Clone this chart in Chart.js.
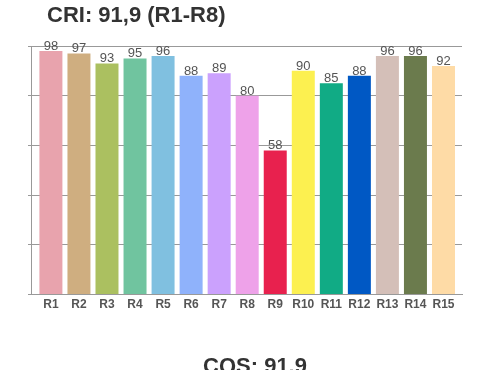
<!DOCTYPE html>
<html>
<head>
<meta charset="utf-8">
<script src="https://cdn.jsdelivr.net/npm/chart.js@4"></script>
<style>
  body { margin: 0; background: #fff; overflow: hidden; }
  #wrap { position: relative; width: 500px; height: 370px; overflow: hidden; }
  #chart { position: absolute; left: 0; top: 0; }
  .ttl { position: absolute; font: bold 22px "Liberation Sans", Arial, sans-serif; color: #333; white-space: nowrap; }
</style>
</head>
<body>
<div id="wrap">
  <canvas id="chart" width="500" height="370"></canvas>
  <div class="ttl" id="title1" style="left:47px; top:2px;">CRI: 91,9 (R1-R8)</div>
  <div class="ttl" id="title2" style="left:0; width:510px; text-align:center; top:353px;">CQS: 91.9</div>
</div>
<script>
const categories = ['R1', 'R2', 'R3', 'R4', 'R5', 'R6', 'R7', 'R8', 'R9', 'R10', 'R11', 'R12', 'R13', 'R14', 'R15'];
const values = [98, 97, 93, 95, 96, 88, 89, 80, 58, 90, 85, 88, 96, 96, 92];
const barColors = ['#e8a3ad', '#cfae80', '#abc060', '#70c49f', '#80c0e0', '#8fb2fb', '#cba1fd', '#eea2e9', '#e8214e',
                   '#fcf050', '#11ab85', '#0058c4', '#d4bfb8', '#6b7b4d', '#fedba6'];
const yTicks = [0, 20, 40, 60, 80, 100];

// draw the value above each bar
const valueLabels = {
    id: 'valueLabels',
    afterDatasetsDraw(chart) {
        const ctx = chart.ctx;
        const meta = chart.getDatasetMeta(0);
        ctx.save();
        ctx.font = '13px "Liberation Sans", Arial, sans-serif';
        ctx.fillStyle = '#555';
        ctx.textAlign = 'center';
        ctx.textBaseline = 'alphabetic';
        meta.data.forEach((bar, i) => {
            ctx.fillText(values[i], bar.x, bar.y - 1);
        });
        ctx.restore();
    }
};

const ctx = document.getElementById('chart').getContext('2d');
new Chart(ctx, {
    type: 'bar',
    data: {
        datasets: [{
            data: values.map((v, i) => ({ x: i, y: v })),
            backgroundColor: barColors,
            borderWidth: 0,
            categoryPercentage: 1,
            barPercentage: 0.82
        }]
    },
    options: {
        responsive: false,
        animation: false,
        layout: { padding: { left: 28, right: 38, top: 46, bottom: 58 } },
        plugins: {
            legend: { display: false },
            tooltip: { enabled: false }
        },
        scales: {
            x: {
                type: 'linear',
                offset: false,
                min: -0.71,
                max: 14.66,
                afterBuildTicks: axis => { axis.ticks = categories.map((c, i) => ({ value: i })); },
                ticks: {
                    callback: v => categories[v],
                    autoSkip: false,
                    maxRotation: 0,
                    padding: 0,
                    color: '#555',
                    font: { family: '"Liberation Sans", Arial, sans-serif', size: 12, weight: 'bold' }
                },
                grid: { display: false, tickLength: 3 },
                border: { display: true, color: '#999', width: 1 }
            },
            y: {
                min: 0,
                max: 100,
                afterBuildTicks: axis => { axis.ticks = yTicks.map(v => ({ value: v })); },
                ticks: { display: false },
                grid: { color: '#999', tickLength: 3, drawTicks: true },
                border: { display: true, color: '#999', width: 1 }
            }
        }
    },
    plugins: [valueLabels]
});
</script>
</body>
</html>
